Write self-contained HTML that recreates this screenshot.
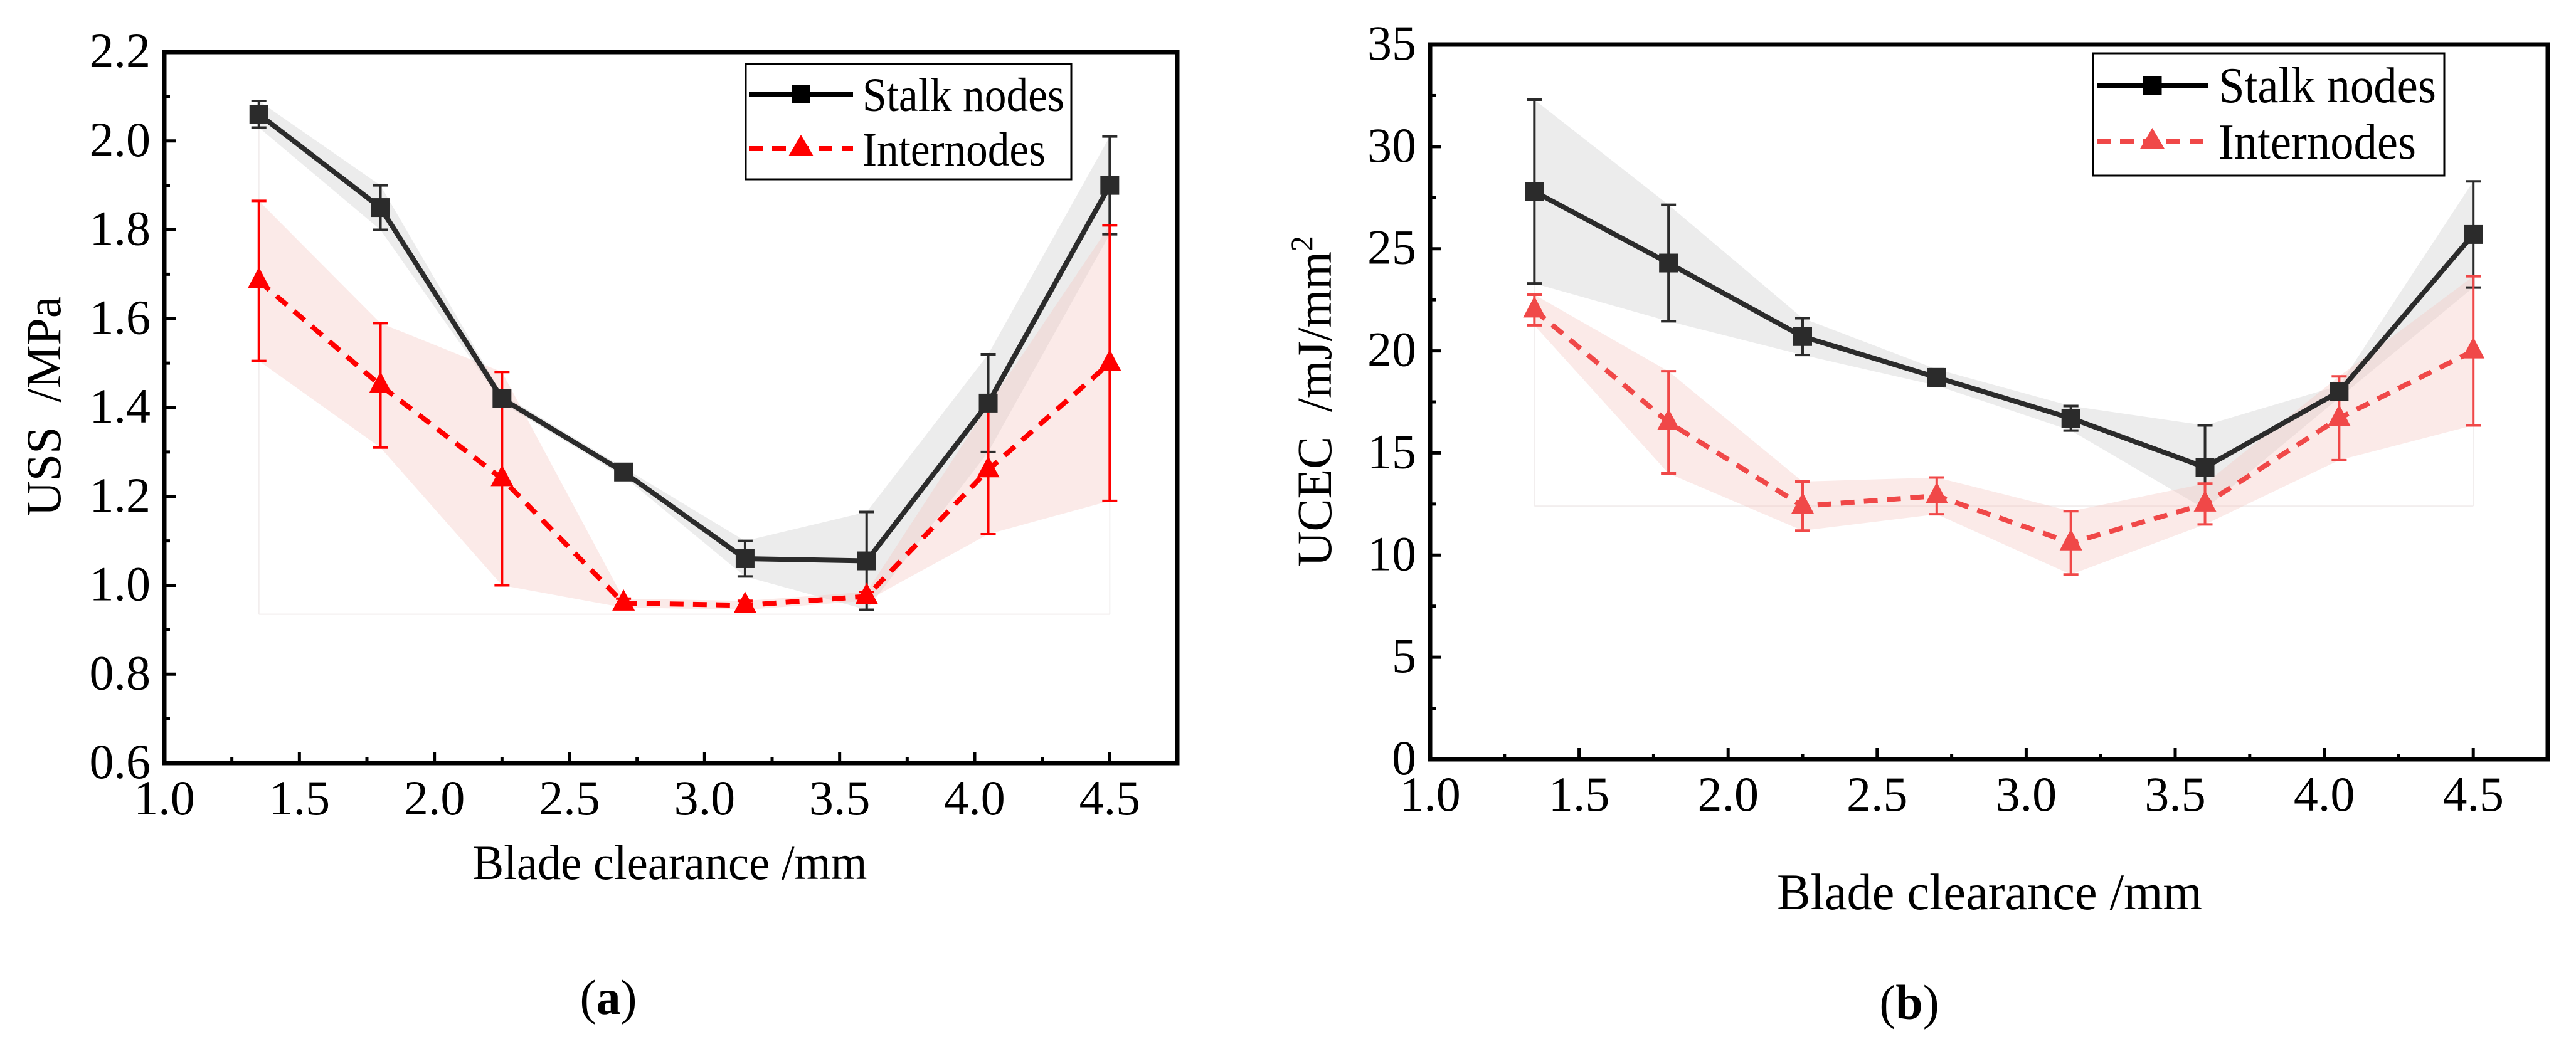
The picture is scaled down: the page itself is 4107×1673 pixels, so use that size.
<!DOCTYPE html>
<html><head><meta charset="utf-8">
<style>
html,body{margin:0;padding:0;background:#fff;}
svg{display:block;font-family:"Liberation Serif","Times New Roman",serif;}
</style></head>
<body>
<svg id="fig" width="4107" height="1673" viewBox="0 0 4107 1673" xmlns="http://www.w3.org/2000/svg">
<rect x="0" y="0" width="4107" height="1673" fill="#fff"/>
</svg>
<script>
// ---- shared data ----
const xCats = [1.35, 1.8, 2.25, 2.7, 3.15, 3.6, 4.05, 4.5];
const xTicks = ["1.0","1.5","2.0","2.5","3.0","3.5","4.0","4.5"];
// chart a: USS
const aStalk = [2.06, 1.85, 1.42, 1.255, 1.06, 1.055, 1.41, 1.90];
const aStalkErr = [0.03, 0.05, 0.01, 0.01, 0.04, 0.11, 0.11, 0.11];
const aInter = [1.685, 1.45, 1.24, 0.96, 0.955, 0.975, 1.26, 1.50];
const aInterErr = [0.18, 0.14, 0.24, 0.01, 0.01, 0.01, 0.145, 0.31];
const aYTicks = ["0.6","0.8","1.0","1.2","1.4","1.6","1.8","2.0","2.2"];
// chart b: UCEC
const bStalk = [27.8, 24.3, 20.7, 18.7, 16.7, 14.3, 18.0, 25.7];
const bStalkErr = [4.5, 2.85, 0.9, 0.4, 0.6, 2.05, 0.3, 2.6];
const bInter = [22.0, 16.5, 12.4, 12.9, 10.6, 12.5, 16.7, 20.0];
const bInterErr = [0.75, 2.5, 1.2, 0.9, 1.55, 1.0, 2.05, 3.65];
const bYTicks = ["0","5","10","15","20","25","30","35"];

const NS = "http://www.w3.org/2000/svg";
const svg = document.getElementById("fig");
function mk(tag, attrs, parent) {
  const e = document.createElementNS(NS, tag);
  for (const k in attrs) e.setAttribute(k, attrs[k]);
  (parent || svg).appendChild(e);
  return e;
}

function drawChart(cfg) {
  const g = mk("g", {});
  
  
  const X = v => cfg.L + (v - 1.0) / 3.75 * (cfg.R - cfg.L);
  const Y = v => cfg.B - (v - cfg.ymin) / (cfg.ymax - cfg.ymin) * (cfg.B - cfg.T);
  const s1 = cfg.stalk, e1 = cfg.stalkErr, s2 = cfg.inter, e2 = cfg.interErr;

  const fl = mk("g", {stroke: "#f2eeee", "stroke-width": 2, fill: "none"}, g);
  
  
  mk("line", {x1: X(xCats[0]), x2: X(xCats[7]), y1: Y(cfg.faint), y2: Y(cfg.faint)}, fl);
  mk("line", {x1: X(xCats[0]), x2: X(xCats[0]), y1: Y(cfg.faint), y2: Y(s1[0] - e1[0])}, fl);
  mk("line", {x1: X(xCats[7]), x2: X(xCats[7]), y1: Y(cfg.faint), y2: Y(s2[7] - e2[7])}, fl);

  function band(vals, errs, fill, nm) {
    let d = "";
    vals.forEach((v, i) => { d += (i ? "L" : "M") + X(xCats[i]) + "," + Y(v + errs[i]); });
    for (let i = vals.length - 1; i >= 0; i--) d += "L" + X(xCats[i]) + "," + Y(vals[i] - errs[i]);
    const p = mk("path", {d: d + "Z", fill: fill, stroke: "none"}, g);
    
    
  }
  band(s1, e1, "#ececec", "stalk-error-band");
  band(s2, e2, "rgba(245,200,195,0.38)", "internode-error-band");

  function errBars(vals, errs, col, nm) {
    const eg = mk("g", {stroke: col, "stroke-width": 4, fill: "none"}, g);
    
    
    vals.forEach((v, i) => {
      const x = X(xCats[i]), y1 = Y(v + errs[i]), y2 = Y(v - errs[i]);
      mk("line", {x1: x, x2: x, y1: y1, y2: y2}, eg);
      mk("line", {x1: x - 12, x2: x + 12, y1: y1, y2: y1}, eg);
      mk("line", {x1: x - 12, x2: x + 12, y1: y2, y2: y2}, eg);
    });
  }
  errBars(s1, e1, "#2b2b2b", "stalk-error-bars");
  errBars(s2, e2, cfg.red, "internode-error-bars");

  const pts1 = s1.map((v, i) => X(xCats[i]) + "," + Y(v)).join(" ");
  const l1 = mk("polyline", {points: pts1, fill: "none", stroke: "#2b2b2b", "stroke-width": 8, "stroke-linejoin": "round"}, g);
  
  
  const pts2 = s2.map((v, i) => X(xCats[i]) + "," + Y(v)).join(" ");
  const l2 = mk("polyline", {points: pts2, fill: "none", stroke: cfg.red, "stroke-width": 8, "stroke-dasharray": "22 15"}, g);
  
  

  s1.forEach((v, i) => {
    const r = mk("rect", {x: X(xCats[i]) - 15, y: Y(v) - 15, width: 30, height: 30, fill: "#2b2b2b"}, g);
    
    
  });
  s2.forEach((v, i) => {
    const x = X(xCats[i]), y = Y(v);
    const t = mk("polygon", {points: (x) + "," + (y - 22) + " " + (x - 18) + "," + (y + 12) + " " + (x + 18) + "," + (y + 12), fill: cfg.red}, g);
    
    
  });

  const fr = mk("rect", {x: cfg.L, y: cfg.T, width: cfg.R - cfg.L, height: cfg.B - cfg.T, fill: "none", stroke: "#000", "stroke-width": 7}, g);
  
  

  const xt = mk("g", {stroke: "#000", "stroke-width": 5}, g);
  
  
  for (let k = 0; k <= 14; k++) {
    const v = 1.0 + k * 0.25; if (v > 4.7) break;
    const x = X(v), len = (k % 2 === 0) ? 18 : 9;
    mk("line", {x1: x, x2: x, y1: cfg.B, y2: cfg.B - len}, xt);
  }
  xTicks.forEach((lab, i) => {
    const t = mk("text", {x: X(1.0 + i * 0.5), y: cfg.B + 82, "text-anchor": "middle", "font-size": 78}, g);
    t.textContent = lab;
    
    
  });
  const yt = mk("g", {stroke: "#000", "stroke-width": 5}, g);
  
  
  const n = cfg.yTicks.length - 1, step = (cfg.ymax - cfg.ymin) / n;
  for (let k = 0; k < 2 * n; k++) {
    const v = cfg.ymin + k * step / 2, y = Y(v), len = (k % 2 === 0) ? 18 : 9;
    if (k === 0) continue;
    mk("line", {x1: cfg.L, x2: cfg.L + len, y1: y, y2: y}, yt);
  }
  cfg.yTicks.forEach((lab, i) => {
    const t = mk("text", {x: cfg.L - 22, y: Y(cfg.ymin + i * step) + 24, "text-anchor": "end", "font-size": 78}, g);
    t.textContent = lab;
    
    
  });

  const xl = mk("text", {x: cfg.xlx, y: cfg.xly, "text-anchor": "middle", "font-size": cfg.xlfs, textLength: cfg.xlw, lengthAdjust: "spacingAndGlyphs"}, g);
  xl.textContent = "Blade clearance /mm";
  
  
  const yl = mk("text", {x: 0, y: 0, "text-anchor": "middle", "font-size": 78, transform: "translate(" + cfg.ylx + "," + cfg.yly + ") rotate(-90)"}, g);
  
  
  yl.textContent = cfg.ylab;
  if (cfg.sup) {
    const ts = mk("tspan", {"font-size": 50, dy: -30}, yl);
    ts.textContent = cfg.sup;
  }

  const lg = mk("g", {}, g);
  
  
  const Lg = cfg.leg;
  mk("rect", {x: Lg.x, y: Lg.y, width: Lg.w, height: Lg.h, fill: "#fff", stroke: "#000", "stroke-width": 3}, lg);
  const e1g = mk("g", {}, lg);
  
  
  mk("line", {x1: Lg.lx1, x2: Lg.lx2, y1: Lg.r1, y2: Lg.r1, stroke: "#000", "stroke-width": 8}, e1g);
  mk("rect", {x: (Lg.lx1 + Lg.lx2) / 2 - 15, y: Lg.r1 - 15, width: 30, height: 30, fill: "#000"}, e1g);
  const t1 = mk("text", {x: Lg.tx, y: Lg.r1 + 27, "font-size": Lg.fs, textLength: Lg.w1, lengthAdjust: "spacingAndGlyphs"}, e1g);
  t1.textContent = "Stalk nodes";
  const e2g = mk("g", {}, lg);
  
  
  mk("line", {x1: Lg.lx1, x2: Lg.lx2, y1: Lg.r2, y2: Lg.r2, stroke: cfg.red, "stroke-width": 8, "stroke-dasharray": "22 15"}, e2g);
  const mx = (Lg.lx1 + Lg.lx2) / 2;
  mk("polygon", {points: mx + "," + (Lg.r2 - 22) + " " + (mx - 20) + "," + (Lg.r2 + 12) + " " + (mx + 20) + "," + (Lg.r2 + 12), fill: cfg.red}, e2g);
  const t2 = mk("text", {x: Lg.tx, y: Lg.r2 + 27, "font-size": Lg.fs, textLength: Lg.w2, lengthAdjust: "spacingAndGlyphs"}, e2g);
  t2.textContent = "Internodes";

  const cap = mk("text", {x: cfg.capx, y: cfg.capy, "text-anchor": "middle", "font-size": 78}, g);
  
  
  cap.appendChild(document.createTextNode("("));
  const b = mk("tspan", {"font-weight": "bold"}, cap); b.textContent = cfg.cap;
  cap.appendChild(document.createTextNode(")"));
}

drawChart({
  name: "chart-a-uss", L: 262, R: 1877, T: 83, B: 1217, ymin: 0.6, ymax: 2.2,
  stalk: aStalk, stalkErr: aStalkErr, inter: aInter, interErr: aInterErr,
  yTicks: aYTicks, red: "#ff0000", faint: 0.935,
  xlx: 1068, xly: 1402, xlfs: 78, xlw: 629,
  ylx: 96, yly: 648, ylab: "USS\u00a0\u00a0/MPa",
  leg: {x: 1189, y: 102, w: 519, h: 184, lx1: 1194, lx2: 1360, r1: 150, r2: 237, tx: 1375, fs: 76, w1: 322, w2: 292},
  capx: 970, capy: 1617, cap: "a"
});
drawChart({
  name: "chart-b-ucec", L: 2280, R: 4062, T: 71, B: 1211, ymin: 0, ymax: 35,
  stalk: bStalk, stalkErr: bStalkErr, inter: bInter, interErr: bInterErr,
  yTicks: bYTicks, red: "#f04848", faint: 12.4,
  xlx: 3172, xly: 1450, xlfs: 82, xlw: 678,
  ylx: 2122, yly: 640, ylab: "UCEC\u00a0\u00a0/mJ/mm",
  sup: "2",
  leg: {x: 3337, y: 85, w: 560, h: 195, lx1: 3343, lx2: 3520, r1: 136, r2: 226, tx: 3537, fs: 80, w1: 347, w2: 315},
  capx: 3044, capy: 1625, cap: "b"
});
</script>
</body></html>
